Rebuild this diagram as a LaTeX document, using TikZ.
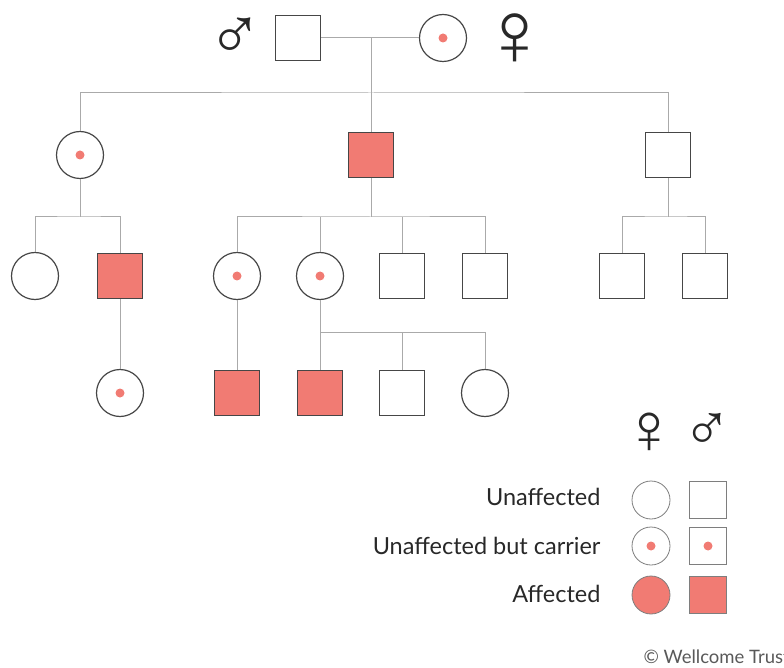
\documentclass[tikz,border=0pt]{standalone}
\usepackage{fontspec}
\setmainfont{Lato}
\newfontfamily\symfont{Liberation Sans}
\usepackage{xcolor}
\usepackage{tikz}
\usetikzlibrary{positioning}
\definecolor{affcol}{RGB}{241,123,115}
\definecolor{edgecol}{RGB}{70,70,70}
\definecolor{linecol}{RGB}{170,170,170}
\definecolor{txtcol}{RGB}{40,40,40}

\begin{document}
\begin{tikzpicture}[x=1pt, y=-1pt, every node/.style={font=\fontsize{23.5}{28}\selectfont, text=txtcol},
    male/.style={draw=edgecol, line width=1.2pt, rectangle, minimum size=45, inner sep=0pt},
    female/.style={draw=edgecol, line width=1.2pt, circle, minimum size=47, inner sep=0pt},
    affected/.style={fill=affcol},
    carrier/.style={path picture={\fill[affcol] (path picture bounding box.center) circle (4.5pt);}},
    keymale/.style={male, minimum size=37, line width=0.8pt, draw=edgecol!70},
    keyfemale/.style={female, minimum size=38, line width=0.8pt, draw=edgecol!70},
    sexm/.style={inner sep=0pt, font=\symfont\fontsize{#1}{#1}\selectfont},
    sexf/.style={inner sep=0pt, font=\symfont\fontsize{#1}{#1}\selectfont},
    link/.style={draw=linecol, line width=1pt}]
  \useasboundingbox (0,0) rectangle (784,668);
  \node[male]   (m1) at (298,38) {};
  \node[female, carrier] (f1) at (443,38) {};
  \node[sexm=74] (msym) at (235,39) {♂};
  \node[sexf=92] (fsym) at (515,40) {♀};
  \node[female, carrier]  (g2a) at (80,155)  {};
  \node[male, affected]   (g2b) at (371,155) {};
  \node[male]             (g2c) at (668,155) {};
  \node[female]           (g3a) at (35,276)  {};
  \node[male, affected]   (g3b) at (120,276) {};
  \node[female, carrier]  (g3c) at (237,276) {};
  \node[female, carrier]  (g3d) at (320,276) {};
  \node[male]             (g3e) at (402,276) {};
  \node[male]             (g3f) at (485,276) {};
  \node[male]             (g3g) at (622,276) {};
  \node[male]             (g3h) at (705,276) {};
  \node[female, carrier]  (g4a) at (120,393) {};
  \node[male, affected]   (g4b) at (237,393) {};
  \node[male, affected]   (g4c) at (320,393) {};
  \node[male]             (g4d) at (402,393) {};
  \node[female]           (g4e) at (485,393) {};
  \coordinate (mid) at (371,38); \coordinate (s1) at (371,93);
  \coordinate (s2) at (80,217);  \coordinate (s3) at (371,217);
  \coordinate (s4) at (668,217); \coordinate (s5) at (320,332);
  \draw[link] (m1)--(f1); \draw[link] (mid)--(s1);
  \draw[link] (g2a) |- (s1) -| (g2c); \draw[link] (s1)--(g2b);
  \draw[link] (g2a)--(s2); \draw[link] (g3a) |- (s2) -| (g3b);
  \draw[link] (g2b)--(s3); \draw[link] (g3c) |- (s3) -| (g3f);
  \draw[link] (g3d)--(g3d |- s3); \draw[link] (g3e)--(g3e |- s3);
  \draw[link] (g2c)--(s4); \draw[link] (g3g) |- (s4) -| (g3h);
  \draw[link] (g3b)--(g4a); \draw[link] (g3c)--(g4b); \draw[link] (g3d)--(g4c);
  \draw[link] (s5) -| (g4e); \draw[link] (g4d)--(g4d |- s5);
  \node[sexf=72] (keyf) at (649,433) {♀};
  \node[sexm=66] (keym) at (707,432) {♂};
  \node[keyfemale]           (kfu) at (651,500) {};
  \node[keymale]             (kmu) at (708,500) {};
  \node[keyfemale, carrier]  (kfc) at (651,546) {};
  \node[keymale, carrier]    (kmc) at (708,546) {};
  \node[keyfemale, affected] (kfa) at (651,595) {};
  \node[keymale, affected]   (kma) at (708,595) {};
  \node[anchor=east] (lblu) at (604,497) {Unaffected};
  \node[anchor=east] (lblc) at (604,546) {Unaffected but carrier};
  \node[anchor=east] (lbla) at (604,594) {Affected};
  \node[anchor=base west, font=\fontsize{18.5}{20}\selectfont, text=black!65] (copy) at (640,663) {© Wellcome Trust};
\end{tikzpicture}
\end{document}
